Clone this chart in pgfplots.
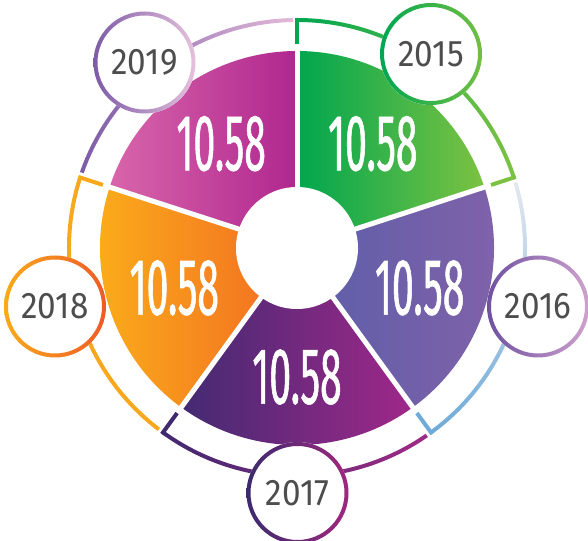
\documentclass[border=0pt]{standalone}
\usepackage{pgfplots}
\pgfplotsset{compat=1.18}
\usepackage{pgfplotstable}
\usetikzlibrary{calc}
\usepackage{fontspec}
\setmainfont{Fira Sans}
\newfontfamily\numfont[FakeStretch=0.49,FakeBold=0.7]{Fira Sans}
\newfontfamily\yearfont[FakeStretch=0.9]{Fira Sans}

\definecolor{gA}{HTML}{00A64F}\definecolor{gB}{HTML}{7CC242}
\definecolor{vA}{HTML}{5B5EA8}\definecolor{vB}{HTML}{8262AA}
\definecolor{pA}{HTML}{432A72}\definecolor{pB}{HTML}{A0288A}
\definecolor{oA}{HTML}{FBB01A}\definecolor{oB}{HTML}{F26A22}
\definecolor{mA}{HTML}{D865AA}\definecolor{mB}{HTML}{B0278F}
\definecolor{ringBtop}{HTML}{E4E8EF}\definecolor{ringBbot}{HTML}{6FAAD8}
\definecolor{ringC1}{HTML}{41296F}\definecolor{ringC2}{HTML}{9E2A86}
\definecolor{ringD}{HTML}{F8A81C}
\definecolor{ringE1}{HTML}{7D5BA6}\definecolor{ringE2}{HTML}{E3BAD8}
\definecolor{cA1}{HTML}{00A650}\definecolor{cA2}{HTML}{72BF44}
\definecolor{cB1}{HTML}{6F51A2}\definecolor{cB2}{HTML}{CFA3CD}
\definecolor{cC1}{HTML}{3B2A6E}\definecolor{cC2}{HTML}{A1287F}
\definecolor{cD1}{HTML}{F9AA1A}\definecolor{cD2}{HTML}{EF5A28}
\definecolor{cE1}{HTML}{7D5BA6}\definecolor{cE2}{HTML}{E6C2DD}
\definecolor{yeartext}{HTML}{4D4D4D}

\pgfplotstableread{
year value
2015 10.58
2016 10.58
2017 10.58
2018 10.58
2019 10.58
}\datatable

% cumulative angles (clockwise from the top)
\xdef\tot{0}
\foreach \i in {0,...,4}{%
  \pgfplotstablegetelem{\i}{value}\of\datatable
  \pgfmathsetmacro\tmp{\tot+\pgfplotsretval}%
  \xdef\tot{\tmp}}
\xdef\cum{0}
\foreach \i/\l in {0/a,1/b,2/c,3/d,4/e}{%
  \pgfplotstablegetelem{\i}{value}\of\datatable
  \edef\myval{\pgfplotsretval}%
  \pgfmathsetmacro\sa{90-360*(\cum/\tot)}%
  \pgfmathsetmacro\nc{\cum+\myval}%
  \pgfmathsetmacro\ea{90-360*(\nc/\tot)}%
  \pgfmathsetmacro\ma{(\sa+\ea)/2}%
  \expandafter\xdef\csname S\l\endcsname{\sa}%
  \expandafter\xdef\csname E\l\endcsname{\ea}%
  \expandafter\xdef\csname M\l\endcsname{\ma}%
  \expandafter\xdef\csname V\l\endcsname{\myval}%
  \pgfplotstablegetelem{\i}{year}\of\datatable
  \expandafter\xdef\csname Y\l\endcsname{\pgfplotsretval}%
  \xdef\cum{\nc}}

% segment: start, end, colours
\newcommand\seg[4]{%
  \shade[left color=#3,right color=#4]
   (O) -- ($(O)+(#1:197pt)$) arc[start angle=#1, end angle=#2, radius=197pt] -- cycle;}
% ring arc: start, end, shading options
\newcommand\ring[3]{%
  \shade[#3] ($(O)+(#1:230pt)$) arc[start angle=#1, end angle=#2, radius=230pt]
   -- ($(O)+(#2:226pt)$) arc[start angle=#2, end angle=#1, radius=226pt] -- cycle;}
\newcommand\tick[2]{%
  \draw[line width=4pt,#2] ($(O)+(#1:204pt)$) -- ($(O)+(#1:230pt)$);}
\newcommand\gapline[1]{\draw[white,line width=5pt] (O) -- ($(O)+(#1:200pt)$);}
\newcommand\yearcircle[5]{% x,y,color1,color2,label
  \fill[white] (axis cs:#1,#2) circle[radius=51pt];
  \shade[left color=#3,right color=#4,even odd rule] (axis cs:#1,#2) circle[radius=51pt] (axis cs:#1,#2) circle[radius=47pt];
  \node[text=yeartext,font=\yearfont\fontsize{37}{40}\selectfont,inner sep=0pt] at (axis cs:#1,#2) {#5};}
\newcommand\valnode[2]{%
  \node[text=white,font=\numfont\fontsize{80}{82}\selectfont,inner sep=0pt]
   at ($(O)+(#1:129pt)$) {#2};}

\pgfmathsetmacro\RSb{\Sb-1.3}
\pgfmathsetmacro\RSc{\Sc-1.3}
\pgfmathsetmacro\RSd{\Sd-1.3}
\pgfmathsetmacro\RSe{\Se-1.3}
\pgfmathsetmacro\REe{\Ee+1.0}

\begin{document}
\begin{tikzpicture}
\begin{axis}[name=main, x=1pt, y=1pt, xmin=-297, xmax=291, ymin=-292, ymax=248,
  hide axis, clip=false]
\coordinate (O) at (axis cs:0,0);
% outer ring
\ring{\Sa}{\Ea}{left color=cA1,right color=gB}
\ring{\RSb}{\Eb}{top color=ringBtop,bottom color=ringBbot}
\ring{\RSc}{\Ec}{left color=ringC1,right color=ringC2}
\ring{\RSd}{\Ed}{top color=ringD,bottom color=ringD}
\ring{\RSe}{\REe}{left color=ringE1,right color=ringE2}
\tick{\Sa}{cA1}
\tick{\Ea}{gB}
\tick{\Eb}{ringBbot}
\tick{\Ec}{ringC1}
\tick{\Ed}{ringD}
% segments
\seg{\Sa}{\Ea}{gA}{gB}
\seg{\Sb}{\Eb}{vA}{vB}
\seg{\Sc}{\Ec}{pA}{pB}
\seg{\Sd}{\Ed}{oA}{oB}
\seg{\Se}{\Ee}{mA}{mB}
\gapline{\Sa}\gapline{\Sb}\gapline{\Sc}\gapline{\Sd}\gapline{\Se}
\fill[white] (O) circle[radius=61pt];
\valnode{\Ma}{\Va}\valnode{\Mb}{\Vb}\valnode{\Mc}{\Vc}\valnode{\Md}{\Vd}\valnode{\Me}{\Ve}
% year circles
\yearcircle{134}{194}{cA1}{cA2}{\Ya}
\yearcircle{241}{-58.5}{cB1}{cB2}{\Yb}
\yearcircle{0.5}{-245}{cC1}{cC2}{\Yc}
\yearcircle{-242}{-58.5}{cD1}{cD2}{\Yd}
\yearcircle{-152.5}{185.5}{cE1}{cE2}{\Ye}
\end{axis}
\pgfresetboundingbox
\path (main.south west) rectangle (main.north east);
\end{tikzpicture}
\end{document}
